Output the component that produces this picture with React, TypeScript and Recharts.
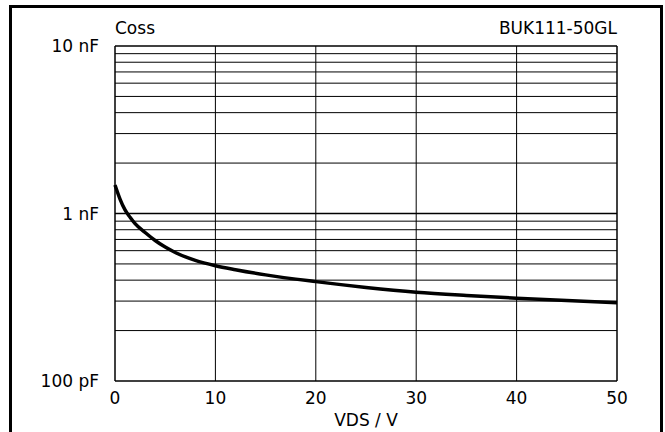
import React from 'react';
import { LineChart, Line, XAxis, YAxis, ReferenceLine } from 'recharts';

// Coss vs VDS
const vds = [0, 0.5, 1, 1.5, 2, 3, 4, 5, 6, 8, 10, 12, 15, 20, 25, 30, 35, 40, 45, 50];
const cossPf = [1480, 1220, 1050, 950, 870, 770, 690, 630, 585, 525, 488, 462, 430, 392, 362, 339, 324, 312, 302, 293];

const xTicks = [0, 10, 20, 30, 40, 50];
const yTicks = [100, 1000, 10000];
const yMinor = [200, 300, 400, 500, 600, 700, 800, 900, 2000, 3000, 4000, 5000, 6000, 7000, 8000, 9000];
const xGrid = [10, 20, 30, 40];

const data = vds.map((v, i) => ({ v, c: cossPf[i] }));

const FONT = '"DejaVu Sans", Arial, sans-serif';

function fmtCap(v: number) {
  if (v >= 10000) return '10 nF';
  if (v >= 1000) return '1 nF';
  return '100 pF';
}

export default function App() {
  const tickStyle = { fill: '#000', fontSize: 17, fontFamily: FONT };
  return (
    <div style={{ position: 'absolute', left: 0, top: 0, width: 665, height: 432, overflow: 'hidden', background: '#fff' }}>
      <div
        style={{
          position: 'absolute',
          left: 9,
          top: 5,
          width: 648,
          height: 440,
          border: '3px solid #000',
        }}
      />
      <div style={{ position: 'absolute', left: 115, top: 18, fontFamily: FONT, fontSize: 17, lineHeight: '20px' }}>Coss</div>
      <div style={{ position: 'absolute', right: 48, top: 18, fontFamily: FONT, fontSize: 17, lineHeight: '20px' }}>BUK111-50GL</div>
      <div
        style={{
          position: 'absolute',
          left: 266,
          width: 200,
          textAlign: 'center',
          top: 410,
          fontFamily: FONT,
          fontSize: 17,
          lineHeight: '20px',
        }}
      >
        VDS / V
      </div>
      <div style={{ position: 'absolute', left: 0, top: 0 }}>
        <LineChart width={665} height={432} data={data} margin={{ top: 46, right: 48, bottom: 21, left: 0 }}>
          <XAxis
            dataKey="v"
            type="number"
            domain={[0, 50]}
            ticks={xTicks}
            height={30}
            axisLine={false}
            tickLine={false}
            tickSize={0}
            tickMargin={11}
            tick={tickStyle}
            interval={0}
          />
          <YAxis
            type="number"
            scale="log"
            domain={[100, 10000]}
            ticks={yTicks}
            allowDataOverflow
            width={115}
            axisLine={false}
            tickLine={false}
            tickSize={0}
            tickMargin={16}
            tick={tickStyle}
            tickFormatter={fmtCap}
            interval={0}
          />
          {yMinor.map((y) => (
            <ReferenceLine key={'y' + y} y={y} stroke="#000" strokeWidth={1} />
          ))}
          {xGrid.map((x) => (
            <ReferenceLine key={'x' + x} x={x} stroke="#000" strokeWidth={1} />
          ))}
          <ReferenceLine y={1000} stroke="#000" strokeWidth={1.5} />
          <ReferenceLine y={100} stroke="#000" strokeWidth={1.5} />
          <ReferenceLine y={10000} stroke="#000" strokeWidth={1.5} />
          <ReferenceLine x={0} stroke="#000" strokeWidth={1.5} />
          <ReferenceLine x={50} stroke="#000" strokeWidth={1.5} />
          <Line
            dataKey="c"
            type="monotone"
            stroke="#000"
            strokeWidth={3.5}
            dot={false}
            isAnimationActive={false}
          />
        </LineChart>
      </div>
    </div>
  );
}
